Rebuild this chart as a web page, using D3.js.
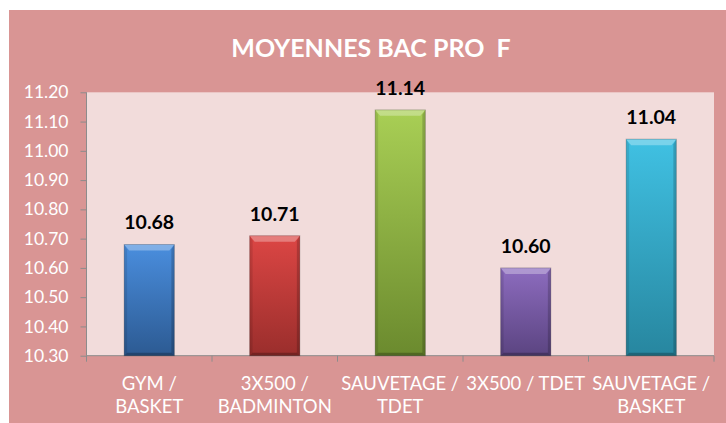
<!DOCTYPE html>
<html><head><meta charset="utf-8">
<script src="https://cdn.jsdelivr.net/npm/d3@7"></script>
<style>html,body{margin:0;padding:0;background:#fff;}svg{display:block;}</style>
</head><body>
<svg id="c" width="726" height="423"></svg>
<script>
const title = "MOYENNES BAC PRO  F";
const categories = ["GYM /\nBASKET", "3X500 /\nBADMINTON", "SAUVETAGE /\nTDET", "3X500 / TDET", "SAUVETAGE /\nBASKET"];
const values = [10.68, 10.71, 11.14, 10.60, 11.04];
const yTicks = [10.30, 10.40, 10.50, 10.60, 10.70, 10.80, 10.90, 11.00, 11.10, 11.20];
const barTop = ["#4a8ede", "#dc4644", "#a9cf55", "#8d6cbf", "#40c1e3"];
const barBottom = ["#2c5a92", "#9a2e2c", "#6b8a2e", "#5b4481", "#27869f"];

const svg = d3.select("#c");
const W = 726, H = 423;
svg.append("rect").attr("x", 9).attr("y", 10).attr("width", W - 9).attr("height", H - 10).attr("fill", "#d99594");

const plot = {l: 86.5, r: 714, t: 92.3, b: 355.7};
svg.append("rect").attr("x", plot.l).attr("y", plot.t).attr("width", plot.r - plot.l).attr("height", plot.b - plot.t).attr("fill", "#f2dcdb");

const x = d3.scaleBand().domain(categories).range([plot.l, plot.r]).padding(0);
const y = d3.scaleLinear().domain([10.30, 11.20]).range([plot.b, plot.t]);

svg.append("text").attr("x", 371).attr("y", 56.5).attr("text-anchor", "middle")
  .attr("font-family", "Lato, sans-serif").attr("font-weight", "bold").attr("font-size", 25)
  .style("white-space", "pre").attr("xml:space", "preserve")
  .attr("fill", "#fff").text(title);

// defs gradients
const defs = svg.append("defs");
values.forEach((v, i) => {
  const g = defs.append("linearGradient").attr("id", "g" + i).attr("x1", 0).attr("y1", 0).attr("x2", 0).attr("y2", 1);
  g.append("stop").attr("offset", "0%").attr("stop-color", barTop[i]);
  g.append("stop").attr("offset", "100%").attr("stop-color", barBottom[i]);
});

// y axis
const yAxis = d3.axisLeft(y).tickValues(yTicks).tickFormat(d3.format(".2f")).tickSize(6).tickPadding(12);
const ya = svg.append("g").attr("transform", `translate(${plot.l},0)`).call(yAxis);
ya.select(".domain").attr("stroke", "#8c8c8c").attr("d", `M0,${plot.t}V${plot.b}`);
ya.selectAll(".tick line").attr("stroke", "#8c8c8c");
ya.selectAll(".tick text").attr("fill", "#fff").attr("font-family", "Lato, sans-serif").attr("font-size", 17.5);

// x axis
const xAxis = d3.axisBottom(x).tickSize(0).tickFormat("");
const xa = svg.append("g").attr("transform", `translate(0,${plot.b})`).call(xAxis);
xa.select(".domain").attr("stroke", "#8c8c8c").attr("d", `M${plot.l},0H${plot.r}`);
xa.selectAll(".tick").remove();
const xt = svg.append("g");
[...categories.map(c => x(c)), plot.r].forEach(px => {
  xt.append("line").attr("x1", px).attr("x2", px).attr("y1", plot.b).attr("y2", plot.b + 6).attr("stroke", "#8c8c8c");
});
categories.forEach(c => {
  const t = svg.append("text").attr("text-anchor", "middle").attr("fill", "#fff")
    .attr("font-family", "Lato, sans-serif").attr("font-size", 18.5);
  c.split("\n").forEach((ln, k) => {
    t.append("tspan").attr("x", x(c) + x.bandwidth() / 2).attr("y", 389.5 + k * 23.5).text(ln);
  });
});

// bars
const bw = x.bandwidth() * 0.4;
values.forEach((v, i) => {
  const cx = x(categories[i]) + x.bandwidth() / 2;
  const x0 = cx - bw / 2, x1 = cx + bw / 2, y0 = y(v), y1 = y(10.30);
  const g = svg.append("g");
  g.append("rect").attr("x", x0).attr("y", y0).attr("width", bw).attr("height", y1 - y0).attr("fill", `url(#g${i})`);
  const b = 5;
  g.append("path").attr("d", `M${x0},${y0}H${x1}L${x1 - b},${y0 + b + 1}H${x0 + b}Z`).attr("fill", "#fff").attr("opacity", 0.3);
  g.append("path").attr("d", `M${x0},${y0}L${x0 + 3},${y0 + b}V${y1 - 3}L${x0},${y1}Z`).attr("fill", "#000").attr("opacity", 0.1);
  g.append("path").attr("d", `M${x1},${y0}L${x1 - 3},${y0 + b}V${y1 - 3}L${x1},${y1}Z`).attr("fill", "#000").attr("opacity", 0.18);
  g.append("path").attr("d", `M${x0},${y1}L${x0 + 3},${y1 - 3}H${x1 - 3}L${x1},${y1}Z`).attr("fill", "#000").attr("opacity", 0.25);
  g.append("rect").attr("x", x0).attr("y", y0).attr("width", bw).attr("height", y1 - y0).attr("fill", "none").attr("stroke", "#000").attr("stroke-opacity", 0.2).attr("stroke-width", 1);
  svg.append("text").attr("x", cx).attr("y", y0 - 15).attr("text-anchor", "middle")
    .attr("font-family", "Lato, sans-serif").attr("font-weight", "bold").attr("font-size", 19.5)
    .attr("fill", "#000").text(d3.format(".2f")(v));
});
</script>
</body></html>
